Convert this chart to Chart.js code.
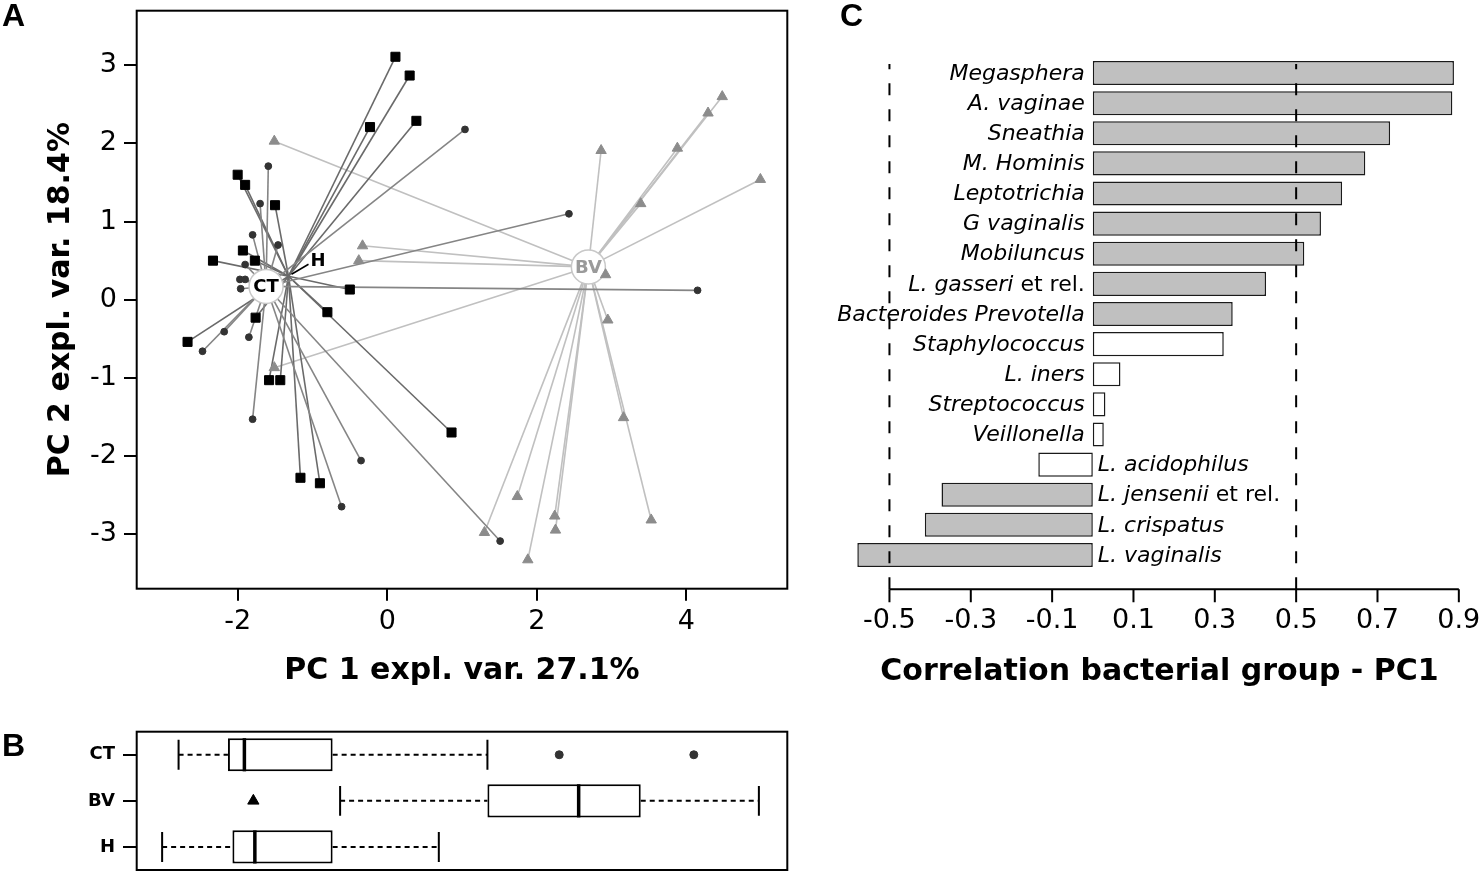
<!DOCTYPE html>
<html>
<head>
<meta charset="utf-8">
<title>PCA bacterial groups</title>
<script src="https://cdn.jsdelivr.net/npm/chart.js@4.4.1/dist/chart.umd.min.js"></script>
<style>
  body { margin: 0; background: #fff; }
  #page { position: relative; width: 1481px; height: 883px; overflow: hidden; }
  canvas { position: absolute; }
  .panel { position: absolute; font: bold 32px "Liberation Sans", Arial, sans-serif; line-height: 32px; color: #000; }
</style>
</head>
<body>
<div id="page">
  <canvas id="pca" width="800" height="700" style="left:0;top:0"></canvas>
  <canvas id="box" width="800" height="183" style="left:0;top:700px"></canvas>
  <canvas id="corr" width="681" height="700" style="left:800px;top:0"></canvas>
  <div class="panel" style="left:2px;top:-1px">A</div>
  <div class="panel" style="left:2px;top:729px">B</div>
  <div class="panel" style="left:840px;top:-1px">C</div>
</div>
<script>
// ---- Panel A: PCA scores (PC1, PC2) ----
const ctPC1 = [1.04, -1.59, -1.70, -1.80, -1.46, -1.90, -1.97, -1.90, -1.96, -2.18, -2.47, -1.85, -1.80, -0.35, -0.61, 2.43, 4.15, 1.51];
const ctPC2 = [2.18, 1.71, 1.23, 0.83, 0.70, 0.45, 0.26, 0.26, 0.14, -0.41, -0.66, -0.48, -1.53, -2.06, -2.65, 1.10, 0.12, -3.09];
const hPC1 = [0.11, 0.30, -0.23, 0.39, -2.00, -1.90, -1.50, -1.93, -2.33, -1.77, -0.50, -0.80, -1.76, -2.67, -1.58, -1.43, 0.86, -1.16, -0.90];
const hPC2 = [3.11, 2.87, 2.21, 2.29, 1.60, 1.47, 1.21, 0.63, 0.50, 0.50, 0.13, -0.16, -0.23, -0.54, -1.03, -1.03, -1.70, -2.28, -2.35];
const bvPC1 = [-1.51, -0.33, -0.38, -1.51, 4.48, 4.29, 3.88, 2.86, 4.99, 3.39, 2.92, 2.95, 3.16, 1.74, 2.24, 2.25, 1.30, 1.88, 3.53];
const bvPC2 = [2.03, 0.69, 0.50, -0.87, 2.60, 2.39, 1.94, 1.91, 1.54, 1.23, 0.32, -0.26, -1.51, -2.52, -2.77, -2.95, -2.98, -3.33, -2.82];
const groupNames = ['CT', 'BV', 'H'];
const centroidPC1 = [-1.62, 2.69, -1.32];
const centroidPC2 = [0.17, 0.42, 0.30];
const pc1Ticks = [-2, 0, 2, 4];
const pc2Ticks = [-3, -2, -1, 0, 1, 2, 3];

// ---- Panel B: PC1 boxplots per group ----
const boxGroups = ['CT', 'BV', 'H'];
const boxMin = [-2.79, -0.63, -3.01];
const boxQ1 = [-2.13, 1.34, -2.07];
const boxMedian = [-1.91, 2.56, -1.77];
const boxQ3 = [-0.73, 3.39, -0.73];
const boxMax = [1.34, 4.97, 0.69];
const outlierGroup = [0, 0, 1];
const outlierPC1 = [2.30, 4.10, -1.79];

// ---- Panel C: correlation with PC1 ----
const bacteria = ['Megasphera', 'A. vaginae', 'Sneathia', 'M. Hominis', 'Leptotrichia', 'G vaginalis', 'Mobiluncus',
  'L. gasseri', 'Bacteroides Prevotella', 'Staphylococcus', 'L. iners', 'Streptococcus', 'Veillonella',
  'L. acidophilus', 'L. jensenii', 'L. crispatus', 'L. vaginalis'];
const bacteriaSuffix = ['', '', '', '', '', '', '', ' et rel.', '', '', '', '', '', '', ' et rel.', '', ''];
const corrPC1 = [0.888, 0.884, 0.731, 0.670, 0.613, 0.561, 0.520, 0.426, 0.344, 0.322, 0.068, 0.031, 0.027, -0.134, -0.372, -0.413, -0.579];
const corrSignificant = [true, true, true, true, true, true, true, true, true, false, false, false, false, false, true, true, true];
const corrTicks = [-0.5, -0.3, -0.1, 0.1, 0.3, 0.5, 0.7, 0.9];
const corrRefLines = [-0.5, 0.5];

Chart.defaults.font.family = '"DejaVu Sans", Verdana, sans-serif';
Chart.defaults.color = '#000';

const toXY = (xs, ys) => xs.map((v, i) => ({ x: v, y: ys[i] }));

// keep the plot area where the layout padding puts it
const noLabelPadding = s => {
  s.paddingTop = 0; s.paddingBottom = 0; s.paddingLeft = 0; s.paddingRight = 0;
};

// box round the plot area
const frame = {
  id: 'frame',
  afterDraw(chart) {
    const { ctx, chartArea: a } = chart;
    ctx.save();
    ctx.lineWidth = 2;
    ctx.strokeStyle = '#000';
    ctx.strokeRect(a.left, a.top, a.right - a.left, a.bottom - a.top);
    ctx.restore();
  }
};

// lines from every sample to its group centre, then the centre labels
const spokes = {
  id: 'spokes',
  beforeDatasetsDraw(chart) {
    const { ctx, scales: { x, y } } = chart;
    ctx.save();
    ctx.lineWidth = 1.6;
    chart.data.datasets.slice().reverse().forEach(ds => {
      const cx = x.getPixelForValue(centroidPC1[ds.group]);
      const cy = y.getPixelForValue(centroidPC2[ds.group]);
      ctx.strokeStyle = ds.spoke;
      ds.data.forEach(p => {
        ctx.beginPath();
        ctx.moveTo(cx, cy);
        ctx.lineTo(x.getPixelForValue(p.x), y.getPixelForValue(p.y));
        ctx.stroke();
      });
    });
    ctx.font = 'bold 18px "DejaVu Sans"';
    ctx.textBaseline = 'middle';
    groupNames.forEach((name, g) => {
      const px = x.getPixelForValue(centroidPC1[g]);
      const py = y.getPixelForValue(centroidPC2[g]);
      if (name === 'H') {
        ctx.strokeStyle = '#000';
        ctx.lineWidth = 1.5;
        ctx.beginPath();
        ctx.moveTo(px + 3, py - 2);
        ctx.lineTo(px + 20, py - 12);
        ctx.stroke();
        ctx.fillStyle = '#000';
        ctx.textAlign = 'left';
        ctx.fillText(name, px + 22, py - 15);
        return;
      }
      ctx.beginPath();
      ctx.arc(px, py, 17, 0, Math.PI * 2);
      ctx.fillStyle = '#fff';
      ctx.fill();
      ctx.strokeStyle = '#c8c8c8';
      ctx.lineWidth = 1.5;
      ctx.stroke();
      ctx.fillStyle = name === 'BV' ? '#9a9a9a' : '#000';
      ctx.textAlign = 'center';
      ctx.fillText(name, px, py + 1);
    });
    ctx.restore();
  }
};

new Chart(document.getElementById('pca'), {
  type: 'scatter',
  data: {
    datasets: [
      { label: 'CT', data: toXY(ctPC1, ctPC2), group: 0, spoke: '#858585', pointStyle: 'circle', pointRadius: 3.4,
        backgroundColor: '#333', borderColor: '#333', borderWidth: 1 },
      { label: 'H', data: toXY(hPC1, hPC2), group: 2, spoke: '#6a6a6a', pointStyle: 'rect', pointRadius: 6.4,
        backgroundColor: '#000', borderColor: '#000', borderWidth: 1 },
      { label: 'BV', data: toXY(bvPC1, bvPC2), group: 1, spoke: '#c0c0c0', pointStyle: 'triangle', pointRadius: 6,
        backgroundColor: '#8c8c8c', borderColor: '#8c8c8c', borderWidth: 1 }
    ]
  },
  options: {
    responsive: false,
    animation: false,
    events: [],
    layout: { padding: { left: 0, top: 10.7, right: 12.7, bottom: 0 } },
    plugins: { legend: { display: false }, tooltip: { enabled: false } },
    scales: {
      x: {
        type: 'linear', min: -3.35, max: 5.35,
        afterBuildTicks: s => { s.ticks = pc1Ticks.map(v => ({ value: v })); },
        afterFit: s => { s.height = 111.3; noLabelPadding(s); },
        border: { display: false },
        grid: { drawOnChartArea: false, tickLength: 12, color: '#000', lineWidth: 2 },
        ticks: { font: { size: 27 }, padding: 5 },
        title: { display: true, text: 'PC 1 expl. var. 27.1%', font: { size: 30, weight: 'bold' }, padding: { bottom: 11 } }
      },
      y: {
        type: 'linear', min: -3.7, max: 3.7,
        afterBuildTicks: s => { s.ticks = pc2Ticks.map(v => ({ value: v })); },
        afterFit: s => { s.width = 136.7; noLabelPadding(s); },
        border: { display: false },
        grid: { drawOnChartArea: false, tickLength: 12.7, color: '#000', lineWidth: 2 },
        ticks: { font: { size: 27 }, padding: 7 },
        title: { display: true, text: 'PC 2 expl. var. 18.4%', font: { size: 30, weight: 'bold' }, padding: { top: 43 } }
      }
    }
  },
  plugins: [spokes, frame]
});

// whiskers, caps, medians and outliers of the boxplots
const boxWhiskers = {
  id: 'boxWhiskers',
  beforeDatasetsDraw(chart) {
    const { ctx, scales: { x, y } } = chart;
    const bars = chart.getDatasetMeta(0).data;
    ctx.save();
    ctx.strokeStyle = '#000';
    ctx.lineWidth = 2;
    boxGroups.forEach((g, i) => {
      const cy = y.getPixelForValue(i);
      const cap = bars[i].height * 0.45;
      ctx.setLineDash([5, 4]);
      ctx.beginPath();
      ctx.moveTo(x.getPixelForValue(boxMin[i]), cy);
      ctx.lineTo(x.getPixelForValue(boxQ1[i]), cy);
      ctx.moveTo(x.getPixelForValue(boxQ3[i]), cy);
      ctx.lineTo(x.getPixelForValue(boxMax[i]), cy);
      ctx.stroke();
      ctx.setLineDash([]);
      ctx.beginPath();
      [boxMin[i], boxMax[i]].forEach(v => {
        const px = x.getPixelForValue(v);
        ctx.moveTo(px, cy - cap);
        ctx.lineTo(px, cy + cap);
      });
      ctx.stroke();
    });
    ctx.restore();
  },
  afterDatasetsDraw(chart) {
    const { ctx, scales: { x, y } } = chart;
    const bars = chart.getDatasetMeta(0).data;
    ctx.save();
    ctx.strokeStyle = '#000';
    ctx.lineWidth = 3.5;
    boxGroups.forEach((g, i) => {
      const cy = y.getPixelForValue(i);
      const half = bars[i].height / 2;
      const px = x.getPixelForValue(boxMedian[i]);
      ctx.beginPath();
      ctx.moveTo(px, cy - half);
      ctx.lineTo(px, cy + half);
      ctx.stroke();
    });
    outlierPC1.forEach((v, k) => {
      const g = outlierGroup[k];
      const style = g === 1 ? { pointStyle: 'triangle', radius: 6.5, rotation: 0, borderWidth: 1 }
                            : { pointStyle: 'circle', radius: 4, rotation: 0, borderWidth: 1 };
      ctx.fillStyle = g === 1 ? '#000' : '#333';
      ctx.strokeStyle = ctx.fillStyle;
      ctx.lineWidth = 1;
      Chart.helpers.drawPoint(ctx, style, x.getPixelForValue(v), y.getPixelForValue(g));
    });
    ctx.restore();
  }
};

new Chart(document.getElementById('box'), {
  type: 'bar',
  data: {
    labels: boxGroups,
    datasets: [{
      data: boxGroups.map((g, i) => [boxQ1[i], boxQ3[i]]),
      backgroundColor: '#fff', borderColor: '#000', borderWidth: 2, borderSkipped: false,
      barPercentage: 0.72, categoryPercentage: 1
    }]
  },
  options: {
    indexAxis: 'y',
    responsive: false,
    animation: false,
    events: [],
    layout: { padding: { left: 0, top: 31.7, right: 12.7, bottom: 13 } },
    plugins: { legend: { display: false }, tooltip: { enabled: false } },
    scales: {
      x: { type: 'linear', display: false, min: -3.35, max: 5.35 },
      y: {
        afterFit: s => { s.width = 136.7; noLabelPadding(s); },
        border: { display: false },
        grid: { drawOnChartArea: false, offset: false, tickLength: 13.7, color: '#000', lineWidth: 2 },
        ticks: { font: { size: 18, weight: 'bold' }, padding: 8 }
      }
    }
  },
  plugins: [boxWhiskers, frame]
});

// reference lines, axis line with ticks and the bar names
const corrDecor = {
  id: 'corrDecor',
  afterDatasetsDraw(chart) {
    const { ctx, chartArea: a, scales: { x, y } } = chart;
    const axisY = a.bottom + 19.3;
    const x0 = x.getPixelForValue(0);
    ctx.save();
    ctx.strokeStyle = '#000';
    ctx.lineWidth = 2;
    ctx.setLineDash([12, 14]);
    corrRefLines.forEach(v => {
      const px = x.getPixelForValue(v);
      ctx.beginPath();
      ctx.moveTo(px, axisY);
      ctx.lineTo(px, a.top + 6);
      ctx.stroke();
    });
    ctx.setLineDash([]);
    ctx.beginPath();
    ctx.moveTo(x.getPixelForValue(corrTicks[0]), axisY);
    ctx.lineTo(x.getPixelForValue(corrTicks[corrTicks.length - 1]), axisY);
    corrTicks.forEach(v => {
      const px = x.getPixelForValue(v);
      ctx.moveTo(px, axisY);
      ctx.lineTo(px, axisY + 13);
    });
    ctx.stroke();

    ctx.fillStyle = '#000';
    ctx.textBaseline = 'middle';
    ctx.textAlign = 'left';
    bacteria.forEach((name, i) => {
      const cy = y.getPixelForValue(i);
      const suffix = bacteriaSuffix[i];
      ctx.font = '22px "DejaVu Sans"';
      const sw = ctx.measureText(suffix).width;
      ctx.font = 'italic 22px "DejaVu Sans"';
      const nw = ctx.measureText(name).width;
      const left = corrPC1[i] >= 0 ? x0 - 8 - sw - nw : x0 + 5;
      ctx.fillText(name, left, cy + 1);
      if (suffix) {
        ctx.font = '22px "DejaVu Sans"';
        ctx.fillText(suffix, left + nw, cy + 1);
      }
    });
    ctx.restore();
  }
};

new Chart(document.getElementById('corr'), {
  type: 'bar',
  data: {
    labels: bacteria,
    datasets: [{
      data: corrPC1,
      backgroundColor: corrSignificant.map(s => s ? '#c0c0c0' : '#fff'),
      borderColor: '#1a1a1a', borderWidth: 1.5, borderSkipped: false,
      barPercentage: 0.8, categoryPercentage: 1
    }]
  },
  options: {
    indexAxis: 'y',
    responsive: false,
    animation: false,
    events: [],
    layout: { padding: { left: 50, top: 58, right: 12, bottom: 0 } },
    plugins: { legend: { display: false }, tooltip: { enabled: false } },
    scales: {
      x: {
        type: 'linear', min: -0.597, max: 0.925,
        afterBuildTicks: s => { s.ticks = corrTicks.map(v => ({ value: v })); },
        afterFit: s => { s.height = 130; noLabelPadding(s); },
        border: { display: false },
        grid: { drawOnChartArea: false, tickLength: 33, color: 'rgba(0,0,0,0)' },
        ticks: { font: { size: 27 }, padding: 2, callback: v => v.toFixed(1) },
        title: { display: true, text: 'Correlation bacterial group - PC1', font: { size: 30, weight: 'bold' }, padding: { bottom: 10 } }
      },
      y: { display: false }
    }
  },
  plugins: [corrDecor]
});
</script>
</body>
</html>
